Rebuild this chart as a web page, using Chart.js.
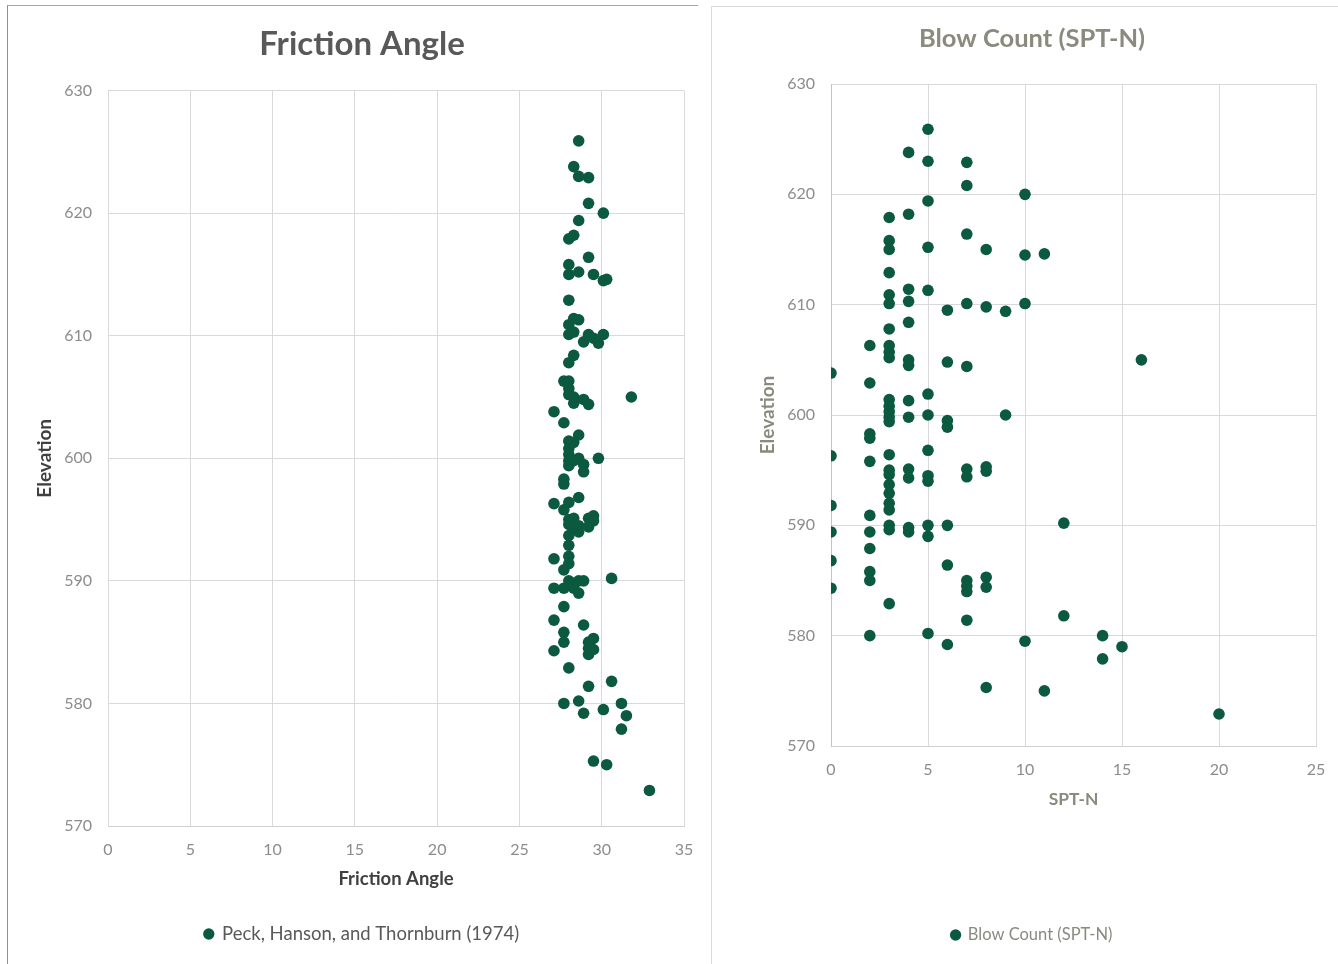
<!DOCTYPE html>
<html>
<head>
<meta charset="utf-8">
<title>Friction Angle / Blow Count</title>
<script src="https://cdn.jsdelivr.net/npm/chart.js@4.4.0/dist/chart.umd.min.js"></script>
<style>
    body { margin: 0; background: #ffffff; overflow: hidden; width: 1338px; height: 964px; position: relative; }
    .frame-left { position: absolute; left: 7px; top: 5px; width: 690px; height: 980px; border-left: 1px solid #8f8f8f; border-top: 1px solid #a6a6a6; }
    .frame-right { position: absolute; left: 711px; top: 6px; width: 640px; height: 980px; border-left: 1px solid #d9d9d9; border-top: 1px solid #d9d9d9; }
    #frictionChart { position: absolute; left: 8px; top: 6px; }
    #sptChart { position: absolute; left: 713px; top: 7px; }
</style>
</head>
<body>
<div class="frame-left"></div>
<div class="frame-right"></div>
<canvas id="frictionChart" width="708" height="958"></canvas>
<canvas id="sptChart" width="632" height="957"></canvas>
<script>
// Elevation of each sample (same samples in both charts)
const elevations = [
    625.9, 623.8, 623.0, 622.9, 620.8, 620.0, 619.4, 617.9, 618.2, 616.4,
    615.8, 615.0, 615.2, 615.0, 614.5, 614.6, 612.9, 611.4, 610.9, 611.3,
    610.3, 610.1, 609.5, 610.1, 609.8, 609.4, 610.1, 608.4, 607.8, 606.3,
    606.3, 605.7, 605.2, 605.0, 604.5, 604.8, 604.4, 603.8, 602.9, 601.9,
    601.4, 600.8, 600.3, 599.8, 599.4, 601.3, 599.8, 600.0, 599.5, 598.9,
    600.0, 598.3, 597.9, 596.3, 595.8, 596.4, 596.8, 595.0, 594.6, 595.1,
    594.3, 594.5, 594.0, 595.1, 594.4, 595.3, 594.9, 593.7, 592.9, 592.0,
    591.4, 591.8, 590.9, 590.0, 589.6, 589.8, 589.4, 590.0, 589.0, 590.0,
    590.2, 589.4, 589.4, 587.9, 586.8, 586.4, 585.8, 585.0, 584.3, 585.0,
    584.5, 584.0, 585.3, 584.4, 582.9, 581.4, 581.8, 580.0, 580.2, 579.2,
    579.5, 580.0, 579.0, 577.9, 575.3, 575.0, 572.9, 605.0
];

// SPT blow counts
const sptN = [
    5, 4, 5, 7, 7, 10, 5, 3, 4, 7,
    3, 3, 5, 8, 10, 11, 3, 4, 3, 5,
    4, 3, 6, 7, 8, 9, 10, 4, 3, 2,
    3, 3, 3, 4, 4, 6, 7, 0, 2, 5,
    3, 3, 3, 3, 3, 4, 4, 5, 6, 6,
    9, 2, 2, 0, 2, 3, 5, 3, 3, 4,
    4, 5, 5, 7, 7, 8, 8, 3, 3, 3,
    3, 0, 2, 3, 3, 4, 4, 5, 5, 6,
    12, 0, 2, 2, 0, 6, 2, 2, 0, 7,
    7, 7, 8, 8, 3, 7, 12, 2, 5, 6,
    10, 14, 15, 14, 8, 11, 20, 16
];

// Friction angle (Peck, Hanson, and Thornburn 1974)
const frictionAngle = [
    28.6, 28.3, 28.6, 29.2, 29.2, 30.1, 28.6, 28.0, 28.3, 29.2,
    28.0, 28.0, 28.6, 29.5, 30.1, 30.3, 28.0, 28.3, 28.0, 28.6,
    28.3, 28.0, 28.9, 29.2, 29.5, 29.8, 30.1, 28.3, 28.0, 27.7,
    28.0, 28.0, 28.0, 28.3, 28.3, 28.9, 29.2, 27.1, 27.7, 28.6,
    28.0, 28.0, 28.0, 28.0, 28.0, 28.3, 28.3, 28.6, 28.9, 28.9,
    29.8, 27.7, 27.7, 27.1, 27.7, 28.0, 28.6, 28.0, 28.0, 28.3,
    28.3, 28.6, 28.6, 29.2, 29.2, 29.5, 29.5, 28.0, 28.0, 28.0,
    28.0, 27.1, 27.7, 28.0, 28.0, 28.3, 28.3, 28.6, 28.6, 28.9,
    30.6, 27.1, 27.7, 27.7, 27.1, 28.9, 27.7, 27.7, 27.1, 29.2,
    29.2, 29.2, 29.5, 29.5, 28.0, 29.2, 30.6, 27.7, 28.6, 28.9,
    30.1, 31.2, 31.5, 31.2, 29.5, 30.3, 32.9, 31.8
];

const pointColor = "#0b5a3f";
const gridColor = "#d9d9d9";
const fontFamily = "Lato, 'Open Sans', sans-serif";

// Generate scatter chart config (elevation on y axis)
function createScatterConfig(s) {
    return {
        type: "scatter",
        data: {
            datasets: [{
                label: s.legend,
                data: s.xValues.map((v, i) => ({ x: v, y: elevations[i] })),
                backgroundColor: pointColor,
                borderColor: pointColor,
                borderWidth: 0,
                pointRadius: 5.8,
                pointHoverRadius: 5.8
            }]
        },
        options: {
            responsive: false,
            animation: false,
            layout: { padding: s.padding },
            plugins: {
                title: {
                    display: true,
                    text: s.title,
                    color: s.titleColor,
                    font: { family: fontFamily, size: s.titleSize, weight: "bold" },
                    padding: s.titlePadding
                },
                legend: {
                    position: "bottom",
                    labels: {
                        usePointStyle: true,
                        pointStyle: "circle",
                        boxWidth: 8,
                        boxHeight: 8,
                        padding: 10,
                        color: s.legendColor,
                        font: { family: fontFamily, size: s.legendSize }
                    }
                },
                tooltip: { enabled: false }
            },
            scales: {
                x: {
                    type: "linear",
                    min: 0,
                    max: s.xMax,
                    ticks: { stepSize: 5, padding: 14, color: "#8c8c8c", font: { family: fontFamily, size: 16 } },
                    grid: { color: gridColor, drawTicks: false },
                    border: { color: s.xBorder },
                    title: {
                        display: true,
                        text: s.xTitle,
                        color: s.axisTitleColor,
                        font: { family: fontFamily, size: s.xTitleSize, weight: "bold" },
                        padding: { top: 0, bottom: s.xTitlePad }
                    },
                    afterFit: scale => { scale.height = s.xHeight; }
                },
                y: {
                    min: 570,
                    max: 630,
                    ticks: { stepSize: 10, padding: 16, color: "#8c8c8c", font: { family: fontFamily, size: 16 } },
                    grid: { color: gridColor, drawTicks: false },
                    border: { color: s.yBorder },
                    title: {
                        display: true,
                        text: "Elevation",
                        color: s.axisTitleColor,
                        font: { family: fontFamily, size: s.yTitleSize, weight: "bold", lineHeight: 1 },
                        padding: { top: s.yTitlePad, bottom: 0 }
                    },
                    afterFit: scale => { scale.width = s.yWidth; }
                }
            }
        }
    };
}

new Chart(document.getElementById("frictionChart"), createScatterConfig({
    legend: "Peck, Hanson, and Thornburn (1974)",
    xValues: frictionAngle,
    xMax: 35,
    title: "Friction Angle",
    titleColor: "#595959",
    titleSize: 33,
    titlePadding: { top: 19, bottom: 26 },
    legendColor: "#595959",
    legendSize: 18.5,
    xTitle: "Friction Angle",
    axisTitleColor: "#404040",
    xTitleSize: 18.5,
    yTitleSize: 19,
    xTitlePad: 24.5,
    xHeight: 88.75,
    yTitlePad: -4.5,
    yWidth: 68,
    xBorder: "#d0d0d0",
    yBorder: gridColor,
    padding: { left: 32, right: 32, top: 0, bottom: 10.75 }
}));

new Chart(document.getElementById("sptChart"), createScatterConfig({
    legend: "Blow Count (SPT-N)",
    xValues: sptN,
    xMax: 25,
    title: "Blow Count (SPT-N)",
    titleColor: "#8a8a7e",
    titleSize: 25.5,
    titlePadding: { top: 16.7, bottom: 29.7 },
    legendColor: "#8a8a80",
    legendSize: 16.5,
    xTitle: "SPT-N",
    axisTitleColor: "#8a8a7e",
    xTitleSize: 17.4,
    yTitleSize: 19,
    xTitlePad: 107.3,
    xHeight: 170.75,
    yTitlePad: 10.5,
    yWidth: 83,
    xBorder: "#d0d0d0",
    yBorder: "#c4c4c4",
    padding: { left: 35, right: 29, top: 0, bottom: 10.75 }
}));
</script>
</body>
</html>
